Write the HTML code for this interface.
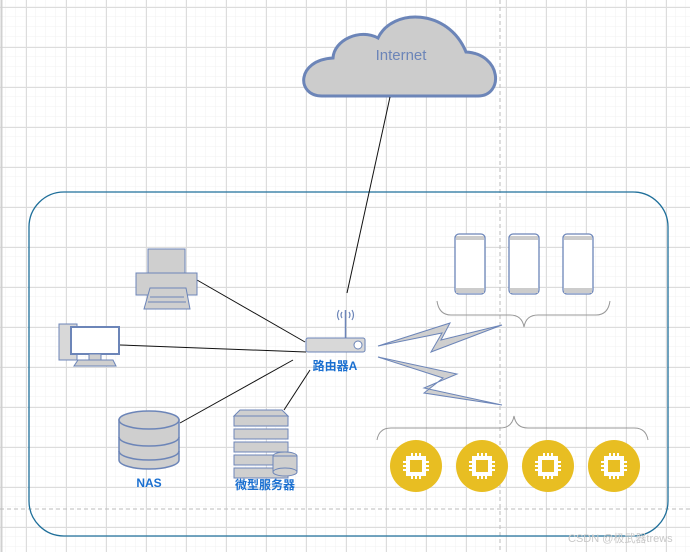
<!DOCTYPE html>
<html><head><meta charset="utf-8"><style>
body{margin:0;width:690px;height:552px;overflow:hidden;background:#fff;font-family:"Liberation Sans","Noto Sans CJK SC",sans-serif}
</style></head><body>
<svg width="690" height="552" xmlns="http://www.w3.org/2000/svg">
<defs>
<pattern id="mi" x="6" y="7" width="10" height="10" patternUnits="userSpaceOnUse"><path d="M10 0V10M0 10H10" stroke="#f2f2f2" stroke-width="1" fill="none"/></pattern>
<pattern id="ma" x="26" y="7" width="40" height="40" patternUnits="userSpaceOnUse"><path d="M0.5 0V40M0 0.5H40" stroke="#dcdcdc" stroke-width="1" fill="none"/></pattern>
</defs>
<rect width="690" height="552" fill="url(#mi)"/>
<rect width="690" height="552" fill="url(#ma)"/>
<line x1="1.5" y1="0" x2="1.5" y2="552" stroke="#d0d0d0" stroke-width="2"/>
<line x1="500" y1="0" x2="500" y2="552" stroke="#bbb" stroke-dasharray="4,3"/>
<line x1="0" y1="509" x2="690" y2="509" stroke="#bbb" stroke-dasharray="4,3"/>
<rect x="29" y="192" width="639" height="344" rx="35" fill="none" stroke="#1f6f9a" stroke-width="1.3"/>
<path d="M322 96 C296 96 296 60 333 58 C334 40 360 28 378 38 C392 8 448 8 466 52 C502 54 504 96 478 96 Z" fill="#cccccc" stroke="#6c85b8" stroke-width="3"/>
<text x="401" y="60" font-size="15" fill="#6c85b8" text-anchor="middle">Internet</text>
<g stroke="#111" stroke-width="1">
<line x1="390" y1="97" x2="347" y2="293"/>
<line x1="197" y1="280" x2="305" y2="342"/>
<line x1="120" y1="345" x2="306" y2="352"/>
<line x1="180" y1="423" x2="293" y2="360"/>
<line x1="284" y1="410" x2="310" y2="370"/>
</g>
<path d="M339 310 q-3 5 0 10 M342 312 q-2 3 0 6 M352 310 q3 5 0 10 M349 312 q2 3 0 6" stroke="#6c85b8" stroke-width="1.2" fill="none"/>
<line x1="345.5" y1="310" x2="345.5" y2="340" stroke="#6c85b8" stroke-width="1.5"/>
<rect x="306" y="338" width="59" height="14" rx="2" fill="#d8d8d8" stroke="#6c85b8"/>
<circle cx="358" cy="345" r="4" fill="#fff" stroke="#6c85b8"/>
<text x="335" y="370" font-size="12" font-weight="bold" fill="#1a6fd0" text-anchor="middle">路由器A</text>
<rect x="148" y="249" width="37" height="26" fill="#cfcfcf" stroke="#6c85b8"/>
<rect x="136" y="273" width="61" height="22" fill="#cfcfcf" stroke="#6c85b8"/>
<path d="M150 288 H186 L190 309 H144 Z" fill="#cfcfcf" stroke="#6c85b8"/>
<line x1="150" y1="297" x2="184" y2="297" stroke="#6c85b8"/><line x1="148" y1="302" x2="186" y2="302" stroke="#6c85b8"/>
<rect x="59" y="324" width="18" height="36" fill="#d8d8d8" stroke="#6c85b8"/>
<rect x="71" y="327" width="48" height="27" fill="#fff" stroke="#6c85b8" stroke-width="2"/>
<rect x="89" y="354" width="12" height="6" fill="#cfcfcf" stroke="#6c85b8"/>
<path d="M78 360 H113 L116 366 H74 Z" fill="#cfcfcf" stroke="#6c85b8"/>
<g fill="#cfcfcf" stroke="#6c85b8" stroke-width="1.5">
<path d="M119 420 V460 A30 9 0 0 0 179 460 V420 Z"/>
<ellipse cx="149" cy="420" rx="30" ry="9"/>
<path d="M119 437 A30 9 0 0 0 179 437 M119 451 A30 9 0 0 0 179 451" fill="none"/>
</g>
<text x="149" y="487" font-size="12" font-weight="bold" fill="#1a6fd0" text-anchor="middle">NAS</text>
<g fill="#cfcfcf" stroke="#6c85b8">
<path d="M240 410 H282 L288 416 H234 Z"/>
<rect x="234" y="416" width="54" height="10"/><rect x="234" y="429" width="54" height="10"/>
<rect x="234" y="442" width="54" height="10"/><rect x="234" y="455" width="54" height="10"/><rect x="234" y="468" width="54" height="10"/>
<ellipse cx="285" cy="456" rx="12" ry="4"/><rect x="273" y="456" width="24" height="16"/><ellipse cx="285" cy="472" rx="12" ry="4"/>
</g>
<text x="265" y="489" font-size="12" font-weight="bold" fill="#1a6fd0" text-anchor="middle">微型服务器</text>
<g fill="#fff" stroke="#6c85b8" stroke-width="1.3">
<rect x="455" y="234" width="30" height="60" rx="4"/><rect x="509" y="234" width="30" height="60" rx="4"/><rect x="563" y="234" width="30" height="60" rx="4"/>
</g>
<g fill="#ccc"><rect x="456" y="236" width="28" height="4"/><rect x="510" y="236" width="28" height="4"/><rect x="564" y="236" width="28" height="4"/>
<rect x="456" y="288" width="28" height="5"/><rect x="510" y="288" width="28" height="5"/><rect x="564" y="288" width="28" height="5"/></g>
<path d="M437 301 q2 14 14 14 H510 q12 0 14 12 q2 -12 14 -12 H596 q12 0 14 -14" fill="none" stroke="#999"/>
<path d="M377 440 q2 -12 14 -12 H500 q12 0 14 -12 q2 12 14 12 H634 q12 0 14 12" fill="none" stroke="#999"/>
<path d="M378 346 L450 323 L441 340 L502 325 L431 352 L442 333 Z" fill="#cfcfcf" stroke="#6c85b8"/>
<path d="M378 357 L457 374 L424 388 L502 405 L424 393 L443 378 Z" fill="#cfcfcf" stroke="#6c85b8"/>
<circle cx="416" cy="466" r="26" fill="#e8be22"/>
<circle cx="482" cy="466" r="26" fill="#e8be22"/>
<circle cx="548" cy="466" r="26" fill="#e8be22"/>
<circle cx="614" cy="466" r="26" fill="#e8be22"/>
<g fill="none" stroke="#fff" stroke-width="2">
<g transform="translate(416,466)"><rect x="-8" y="-8" width="16" height="16" stroke-width="4"/><path d="M-4 -13V-9M0 -13V-9M4 -13V-9M-4 9V13M0 9V13M4 9V13M-13 -4H-9M-13 0H-9M-13 4H-9M9 -4H13M9 0H13M9 4H13"/></g>
<g transform="translate(482,466)"><rect x="-8" y="-8" width="16" height="16" stroke-width="4"/><path d="M-4 -13V-9M0 -13V-9M4 -13V-9M-4 9V13M0 9V13M4 9V13M-13 -4H-9M-13 0H-9M-13 4H-9M9 -4H13M9 0H13M9 4H13"/></g>
<g transform="translate(548,466)"><rect x="-8" y="-8" width="16" height="16" stroke-width="4"/><path d="M-4 -13V-9M0 -13V-9M4 -13V-9M-4 9V13M0 9V13M4 9V13M-13 -4H-9M-13 0H-9M-13 4H-9M9 -4H13M9 0H13M9 4H13"/></g>
<g transform="translate(614,466)"><rect x="-8" y="-8" width="16" height="16" stroke-width="4"/><path d="M-4 -13V-9M0 -13V-9M4 -13V-9M-4 9V13M0 9V13M4 9V13M-13 -4H-9M-13 0H-9M-13 4H-9M9 -4H13M9 0H13M9 4H13"/></g>
</g>
<g fill="#e8be22"><circle cx="416" cy="466" r="2"/><circle cx="482" cy="466" r="2"/><circle cx="548" cy="466" r="2"/><circle cx="614" cy="466" r="2"/></g>
<text x="568" y="542" font-size="11" fill="#c8c8c8">CSDN @极武器trews</text>
</svg>
</body></html>
